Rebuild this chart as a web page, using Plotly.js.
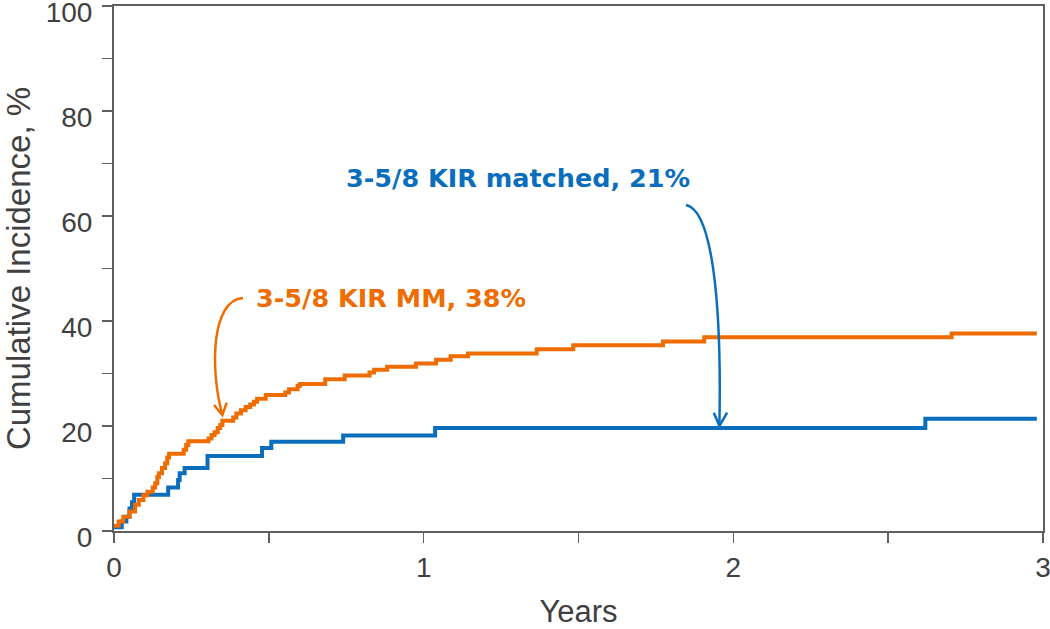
<!DOCTYPE html>
<html>
<head>
<meta charset="utf-8">
<script src="https://cdn.plot.ly/plotly-3.0.1.min.js"></script>
<style>html,body{margin:0;padding:0;background:#fff;}#chart{width:1050px;height:629px;}</style>
</head>
<body>
<div id="chart"></div>
<script>
// Cumulative incidence step data (years, %)
const mmYears = [0, 0.015, 0.03, 0.05, 0.068, 0.08, 0.095, 0.108, 0.125, 0.133, 0.14, 0.145, 0.155, 0.165, 0.172, 0.178, 0.225, 0.233, 0.24, 0.305, 0.315, 0.325, 0.335, 0.343, 0.35, 0.385, 0.395, 0.41, 0.425, 0.44, 0.452, 0.462, 0.49, 0.553, 0.565, 0.593, 0.6, 0.682, 0.745, 0.825, 0.84, 0.882, 0.975, 1.04, 1.087, 1.143, 1.365, 1.483, 1.773, 1.906, 2.705, 2.98];
const mmPct   = [1.0, 1.8, 2.7, 3.7, 5.0, 5.9, 6.8, 7.5, 8.3, 9.1, 10.3, 11.0, 12.0, 12.9, 14.0, 14.7, 15.5, 16.4, 17.1, 17.6, 18.3, 18.8, 19.6, 20.2, 21.0, 21.6, 22.4, 23.0, 23.6, 24.1, 24.6, 25.2, 25.9, 26.4, 27.0, 27.6, 28.0, 28.9, 29.6, 30.2, 30.7, 31.3, 31.9, 32.6, 33.3, 33.8, 34.6, 35.4, 36.1, 36.9, 37.6, 37.6];

const matchedYears = [0, 0.025, 0.04, 0.05, 0.058, 0.065, 0.175, 0.207, 0.212, 0.228, 0.302, 0.478, 0.508, 0.74, 1.037, 2.62, 2.98];
const matchedPct   = [0.7, 1.8, 2.7, 4.3, 5.5, 6.9, 8.3, 9.7, 11.0, 12.0, 14.3, 15.8, 17.0, 18.2, 19.6, 21.4, 21.4];

const seriesNames = ['3-5/8 KIR MM, 38%', '3-5/8 KIR matched, 21%'];
const xTickVals = [0, 0.5, 1, 1.5, 2, 2.5, 3];
const xTickText = ['0', '', '1', '', '2', '', '3'];
const yTickVals = [0, 10, 20, 30, 40, 50, 60, 70, 80, 90, 100];
const yTickText = ['0', '', '20', '', '40', '', '60', '', '80', '', '100'];

// label positions and curved arrow control points (data units)
const mmLabelPos = [0.893, 44.4];
const matchedLabelPos = [1.303, 67.2];
const mmArrow = [[0.4165, 44.38], [0.313, 44.0], [0.310, 30.67], [0.350, 22.1]];
const mmHead = [[0.323, 24.0], [0.350, 22.1], [0.364, 24.44]];
const matchedArrow = [[1.847, 62.1], [1.931, 61.14], [1.963, 44.0], [1.955, 20.0]];
const matchedHead = [[1.937, 22.53], [1.955, 20.0], [1.980, 22.53]];

const ORANGE = '#EE6C00';
const BLUE = '#0A6EBD';
const AXIS = '#5f5f5f';
const TXT = '#404040';

function curvePath(p) {
  return 'M ' + p[0].join(',') + ' C ' + p[1].join(',') + ' ' + p[2].join(',') + ' ' + p[3].join(',');
}
function headPath(h) {
  return 'M ' + h[0].join(',') + ' L ' + h[1].join(',') + ' L ' + h[2].join(',');
}

const traces = [
  {x: matchedYears, y: matchedPct, type: 'scatter', mode: 'lines', line: {shape: 'hv', color: BLUE, width: 4}, name: seriesNames[1]},
  {x: mmYears, y: mmPct, type: 'scatter', mode: 'lines', line: {shape: 'hv', color: ORANGE, width: 4}, name: seriesNames[0]}
];

const layout = {
  width: 1050, height: 629,
  margin: {l: 114, r: 7, t: 6, b: 98},
  paper_bgcolor: '#fff', plot_bgcolor: '#fff',
  showlegend: false,
  font: {family: 'Liberation Sans, Arial, sans-serif', color: TXT},
  xaxis: {
    range: [0, 3], tickvals: xTickVals, ticktext: xTickText,
    ticks: 'outside', ticklen: 10, tickwidth: 1.5, tickcolor: AXIS,
    showline: true, linecolor: AXIS, linewidth: 2, mirror: true,
    showgrid: false, zeroline: false, ticklabeloverflow: 'allow',
    tickfont: {size: 28, color: TXT},
    title: {text: 'Years', font: {size: 31, color: TXT}, standoff: 26}
  },
  yaxis: {
    range: [0, 100], tickvals: yTickVals, ticktext: yTickText,
    ticks: 'outside', ticklen: 10, tickwidth: 1.5, tickcolor: AXIS,
    showline: true, linecolor: AXIS, linewidth: 2, mirror: true,
    showgrid: false, zeroline: false, ticklabeloverflow: 'allow',
    ticklabelstandoff: 4, ticklabelshift: 6,
    tickfont: {size: 28, color: TXT},
    title: {text: 'Cumulative Incidence, %', font: {size: 33, color: TXT}, standoff: 14}
  },
  annotations: [
    {x: mmLabelPos[0], y: mmLabelPos[1], xref: 'x', yref: 'y', text: seriesNames[0], showarrow: false,
     xanchor: 'center', yanchor: 'middle', font: {family: 'DejaVu Sans, Verdana, sans-serif', size: 25.5, color: ORANGE, weight: 'bold'}},
    {x: matchedLabelPos[0], y: matchedLabelPos[1], xref: 'x', yref: 'y', text: seriesNames[1], showarrow: false,
     xanchor: 'center', yanchor: 'middle', font: {family: 'DejaVu Sans, Verdana, sans-serif', size: 25.5, color: BLUE, weight: 'bold'}}
  ],
  shapes: [
    {type: 'path', xref: 'x', yref: 'y', path: curvePath(mmArrow), line: {color: ORANGE, width: 2.5}},
    {type: 'path', xref: 'x', yref: 'y', path: headPath(mmHead), line: {color: ORANGE, width: 2.5}},
    {type: 'path', xref: 'x', yref: 'y', path: curvePath(matchedArrow), line: {color: BLUE, width: 2.5}},
    {type: 'path', xref: 'x', yref: 'y', path: headPath(matchedHead), line: {color: BLUE, width: 2.5}}
  ]
};

Plotly.newPlot('chart', traces, layout, {displayModeBar: false, staticPlot: true});
</script>
</body>
</html>
